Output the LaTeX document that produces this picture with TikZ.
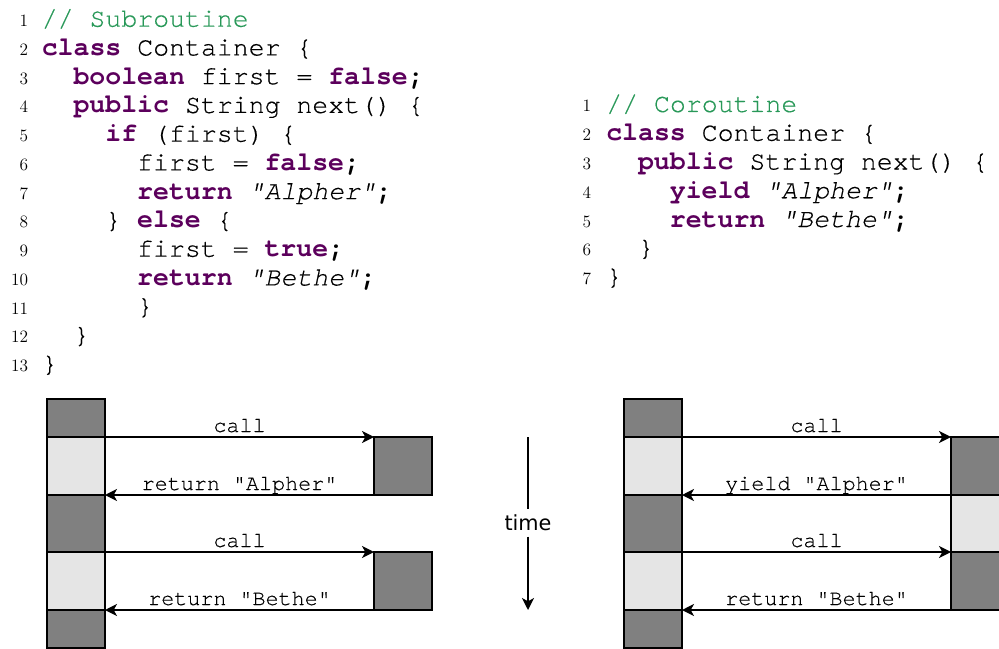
\documentclass[tikz,border=0pt]{standalone}
\usepackage{fontspec}
\setmonofont[Ligatures=NoCommon, UprightFeatures={FakeBold=0.35}, ItalicFeatures={FakeBold=0.35}]{TeX Gyre Cursor}
\newfontfamily\timefont{DejaVu Sans}
\usetikzlibrary{arrows.meta}
\definecolor{kwcol}{RGB}{92,0,92}
\definecolor{cmtcol}{RGB}{40,152,88}
\definecolor{segdark}{RGB}{128,128,128}
\definecolor{seglight}{RGB}{229,229,229}
\newcommand\kwd[1]{\textcolor{kwcol}{\bfseries #1}}
\newcommand\strg[1]{{\itshape #1}}
\newcommand\semic{{\bfseries ;}}
\begin{document}
\begin{tikzpicture}[x=0.75pt,y=-0.75pt,
  code/.style={font=\ttfamily\fontsize{19.9pt}{24pt}\selectfont, inner sep=0, anchor=base west},
  lnum/.style={font=\fontsize{13pt}{15pt}\selectfont, inner sep=0, anchor=base east},
  lbl/.style={font=\ttfamily\fontsize{16.3pt}{19pt}\selectfont, inner sep=0, anchor=base, yshift=3.75pt},
  seg/.style={draw, line width=1.2pt, inner sep=0, outer sep=0, minimum width=43.5pt, anchor=north west},
  dk/.style={seg, fill=segdark},
  lt/.style={seg, fill=seglight},
  arr/.style={line width=1.1pt, -{Stealth[length=9pt,width=9pt,inset=2.5pt]}}]
\useasboundingbox (0,0) rectangle (999,649);
\clip (0,0) rectangle (999,649);

% ---------- Subroutine code ----------
\node[lnum] (ln1) at (28.5,26.7) {1};
\node[code] (lc1) at (41.5,26.7) {\textcolor{cmtcol}{// Subroutine}};
\node[lnum] (ln2) at (28.5,55.45) {2};
\node[code] (lc2) at (41.5,55.45) {\kwd{class} Container \{};
\node[lnum] (ln3) at (28.5,84.2) {3};
\node[code] (lc3) at (73.3,84.2) {\kwd{boolean} first = \kwd{false}\semic};
\node[lnum] (ln4) at (28.5,112.95) {4};
\node[code] (lc4) at (73.3,112.95) {\kwd{public} String next() \{};
\node[lnum] (ln5) at (28.5,141.7) {5};
\node[code] (lc5) at (105.1,141.7) {\kwd{if} (first) \{};
\node[lnum] (ln6) at (28.5,170.45) {6};
\node[code] (lc6) at (136.9,170.45) {first = \kwd{false}\semic};
\node[lnum] (ln7) at (28.5,199.2) {7};
\node[code] (lc7) at (136.9,199.2) {\kwd{return} \strg{"Alpher"}\semic};
\node[lnum] (ln8) at (28.5,227.95) {8};
\node[code] (lc8) at (105.1,227.95) {\} \kwd{else} \{};
\node[lnum] (ln9) at (28.5,256.7) {9};
\node[code] (lc9) at (136.9,256.7) {first = \kwd{true}\semic};
\node[lnum] (ln10) at (28.5,285.45) {10};
\node[code] (lc10) at (136.9,285.45) {\kwd{return} \strg{"Bethe"}\semic};
\node[lnum] (ln11) at (28.5,314.2) {11};
\node[code] (lc11) at (136.9,314.2) {\}};
\node[lnum] (ln12) at (28.5,342.95) {12};
\node[code] (lc12) at (73.3,342.95) {\}};
\node[lnum] (ln13) at (28.5,371.7) {13};
\node[code] (lc13) at (41.5,371.7) {\}};

% ---------- Coroutine code ----------
\node[lnum] (rn1) at (591.5,112) {1};
\node[code] (rc1) at (606,112) {\textcolor{cmtcol}{// Coroutine}};
\node[lnum] (rn2) at (591.5,140.75) {2};
\node[code] (rc2) at (606,140.75) {\kwd{class} Container \{};
\node[lnum] (rn3) at (591.5,169.5) {3};
\node[code] (rc3) at (637.8,169.5) {\kwd{public} String next() \{};
\node[lnum] (rn4) at (591.5,198.25) {4};
\node[code] (rc4) at (669.6,198.25) {\kwd{yield} \strg{"Alpher"}\semic};
\node[lnum] (rn5) at (591.5,227) {5};
\node[code] (rc5) at (669.6,227) {\kwd{return} \strg{"Bethe"}\semic};
\node[lnum] (rn6) at (591.5,255.75) {6};
\node[code] (rc6) at (637.8,255.75) {\}};
\node[lnum] (rn7) at (591.5,284.5) {7};
\node[code] (rc7) at (606,284.5) {\}};

% ---------- Subroutine timeline ----------
\node[dk, minimum height=28.5pt] (sA) at (47,399) {};
\node[lt, minimum height=43.5pt] (sB) at (47,437) {};
\node[dk, minimum height=42.75pt] (sC) at (47,495) {};
\node[lt, minimum height=43.5pt] (sD) at (47,552) {};
\node[dk, minimum height=28.5pt] (sE) at (47,610) {};
\node[dk, minimum height=43.5pt] (sR1) at (374,437) {};
\node[dk, minimum height=43.5pt] (sR2) at (374,552) {};
\draw[arr] (sB.north east) -- node[lbl] {call} (sR1.north west);
\draw[arr] (sR1.south west) -- node[lbl] {return "Alpher"} (sB.south east);
\draw[arr] (sD.north east) -- node[lbl] {call} (sR2.north west);
\draw[arr] (sR2.south west) -- node[lbl] {return "Bethe"} (sD.south east);

% ---------- time ----------
\node[font=\timefont\fontsize{15.6pt}{18pt}\selectfont, inner sep=4pt] (time) at (528,523) {time};
\coordinate (tTop) at (528,437);
\coordinate (tBot) at (528,610);
\draw[line width=1.1pt] (tTop) -- (time.north);
\draw[arr] (time.south) -- (tBot);

% ---------- Coroutine timeline ----------
\node[dk, minimum height=28.5pt] (cA) at (624,399) {};
\node[lt, minimum height=43.5pt] (cB) at (624,437) {};
\node[dk, minimum height=42.75pt] (cC) at (624,495) {};
\node[lt, minimum height=43.5pt] (cD) at (624,552) {};
\node[dk, minimum height=28.5pt] (cE) at (624,610) {};
\node[dk, minimum height=43.5pt] (cR1) at (951,437) {};
\node[lt, minimum height=42.75pt] (cR2) at (951,495) {};
\node[dk, minimum height=43.5pt] (cR3) at (951,552) {};
\draw[arr] (cB.north east) -- node[lbl] {call} (cR1.north west);
\draw[arr] (cR1.south west) -- node[lbl] {yield "Alpher"} (cB.south east);
\draw[arr] (cD.north east) -- node[lbl] {call} (cR3.north west);
\draw[arr] (cR3.south west) -- node[lbl] {return "Bethe"} (cD.south east);
\end{tikzpicture}
\end{document}
